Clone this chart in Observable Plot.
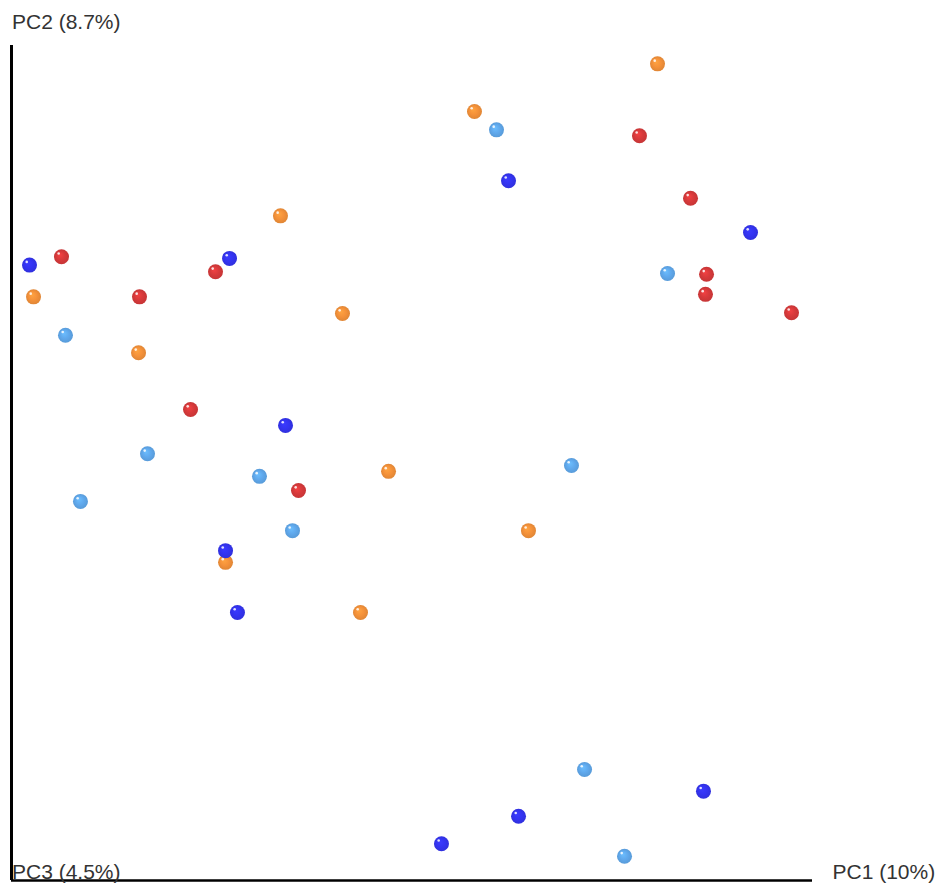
<!DOCTYPE html>
<html><head><meta charset="utf-8">
<script src="https://cdn.jsdelivr.net/npm/d3@7"></script>
<script src="https://cdn.jsdelivr.net/npm/@observablehq/plot@0.6"></script>
<style>body{margin:0;background:#fff}</style>
</head><body><div id="chart"></div>
<script>
// Axis labels (Emperor-style PCoA view)
const labelPC1 = "PC1 (10%)";
const labelPC2 = "PC2 (8.7%)";
const labelPC3 = "PC3 (4.5%)";

// Groups and colours
const groupNames = ["red", "orange", "lightblue", "blue"];
const groupColors = ["#d83a3b", "#f5923a", "#60a9ed", "#3434f2"];

// Projected sample coordinates (screen-plane PC1 / PC2, unitless 0–100)
const redPC1 = [6.24, 15.98, 25.47, 22.35, 35.83, 78.40, 84.77, 86.77, 86.64, 97.38];
const redPC2 = [74.7, 69.9, 72.9, 56.4, 46.7, 89.2, 81.7, 72.6, 70.2, 68.0];

const orangePC1 = [2.75, 33.58, 15.86, 41.32, 47.07, 26.72, 43.57, 57.80, 80.65, 64.54];
const orangePC2 = [69.9, 79.6, 63.2, 67.9, 49.0, 38.1, 32.1, 92.1, 97.8, 41.9];

const lightbluePC1 = [6.74, 16.98, 8.61, 30.96, 35.08, 60.55, 69.91, 81.90, 71.54, 76.53];
const lightbluePC2 = [65.3, 51.1, 45.4, 48.4, 41.9, 89.9, 49.7, 72.7, 13.3, 2.9];

const bluePC1 = [2.25, 27.22, 34.21, 26.72, 28.21, 62.05, 92.26, 86.39, 63.30, 53.68];
const bluePC2 = [73.7, 74.5, 54.5, 39.5, 32.1, 83.8, 77.6, 10.7, 7.7, 4.4];

const seriesX = [redPC1, orangePC1, lightbluePC1, bluePC1];
const seriesY = [redPC2, orangePC2, lightbluePC2, bluePC2];

const points = [];
seriesX.forEach((xs, g) => xs.forEach((x, i) => points.push({g, x, y: seriesY[g][i]})));

const W = 942, H = 887;
const plot = Plot.plot({
  width: W, height: H,
  marginLeft: 11, marginRight: 130, marginTop: 45, marginBottom: 7,
  x: {domain: [0, 100], axis: null},
  y: {domain: [0, 100], axis: null},
  color: {type: "identity"},
  style: {fontFamily: "'Liberation Sans', Arial, sans-serif", background: "#fff", overflow: "visible"},
  marks: [
    Plot.ruleX([0], {y1: 0, y2: 100, stroke: "#000", strokeWidth: 3}),
    Plot.ruleY([0], {x1: 0, x2: 100, stroke: "#000", strokeWidth: 2.5}),
    Plot.dot(points, {x: "x", y: "y", r: 7.5, fill: d => `url(#sph-${d.g})`, stroke: null}),
    Plot.dot(points, {x: "x", y: "y", r: 1.3, dx: -2.8, dy: -3.2, fill: d => "#ffffff", fillOpacity: 0.85}),
    Plot.text([labelPC2], {x: 0, y: 100, text: d => d, textAnchor: "start", lineAnchor: "bottom", dx: 0.5, dy: -17, fontSize: 21, fill: "#333"}),
    Plot.text([labelPC3], {x: 0, y: 0, text: d => d, textAnchor: "start", lineAnchor: "bottom", dx: 0.5, dy: -2, fontSize: 21, fill: "#333"}),
    Plot.text([labelPC1], {x: 100, y: 0, text: d => d, textAnchor: "start", lineAnchor: "bottom", dx: 20, dy: -2, fontSize: 21, fill: "#333"})
  ]
});

const svg = d3.select(plot);
const defs = svg.insert("defs", ":first-child");
groupColors.forEach((c, i) => {
  const grad = defs.append("radialGradient").attr("id", `sph-${i}`)
    .attr("cx", "50%").attr("cy", "50%").attr("r", "50%").attr("fx", "38%").attr("fy", "34%");
  grad.append("stop").attr("offset", "0%").attr("stop-color", d3.color(c).brighter(0.35).formatHex());
  grad.append("stop").attr("offset", "55%").attr("stop-color", c);
  grad.append("stop").attr("offset", "100%").attr("stop-color", d3.color(c).darker(0.25).formatHex());
});

document.getElementById("chart").appendChild(plot);
</script>
</body></html>
